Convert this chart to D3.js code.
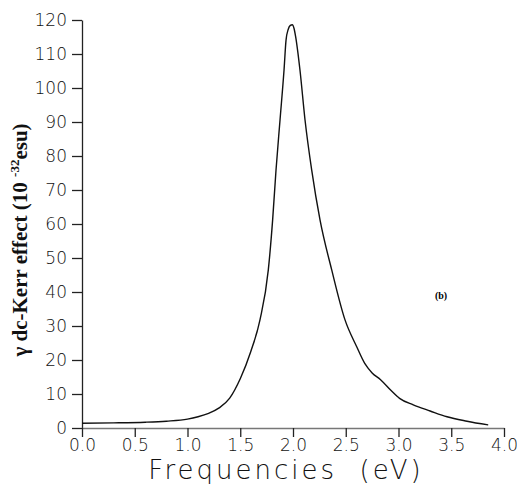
<!DOCTYPE html>
<html>
<head>
<meta charset="utf-8">
<script src="https://cdn.jsdelivr.net/npm/d3@7"></script>
<style>
  body { margin: 0; background: #fff; }
  .tick text { font-family: "DejaVu Sans", sans-serif; font-weight: 200; fill: #111; }
</style>
</head>
<body>
<script>
// dimensions
var width = 517;
var height = 486;

var margin = {
    top: 20,
    bottom: 58,
    left: 82,
    right: 13
}

// data
var freq = [0.0, 0.3, 0.6, 0.8, 1.0, 1.1, 1.2, 1.3, 1.4, 1.5, 1.6, 1.687, 1.766, 1.807, 1.839,
            1.877, 1.915, 1.934, 1.955, 1.975, 1.993, 2.01, 2.025, 2.066, 2.114, 2.177, 2.256,
            2.367, 2.493, 2.604, 2.68, 2.75, 2.83, 2.93, 3.01, 3.14, 3.3, 3.46, 3.65, 3.85];
var gamma = [1.4, 1.5, 1.7, 2.0, 2.6, 3.3, 4.3, 5.9, 8.8, 14.5, 22.5, 31.8, 46.5, 61.2, 75.9,
             90.6, 105.3, 114.1, 117.3, 118.4, 118.6, 117.5, 115.1, 105.3, 90.6, 75.9, 61.2,
             46.5, 31.8, 23.9, 19.0, 16.2, 14.2, 11.0, 8.7, 6.8, 5.0, 3.3, 2.0, 0.9];
var xTicks = [0, 0.5, 1.0, 1.5, 2.0, 2.5, 3.0, 3.5, 4.0];
var yTicks = [0, 10, 20, 30, 40, 50, 60, 70, 80, 90, 100, 110, 120];

var svg = d3.select("body")
    .append("svg")
    .attr("width", width)
    .attr("height", height);

var w = width - margin.left - margin.right;
var h = height - margin.top - margin.bottom;

var g = svg.append("g")
    .attr("transform", "translate(" + margin.left + "," + margin.top + ")");

var x = d3.scaleLinear().domain([0, 4]).range([0, w]);
var y = d3.scaleLinear().domain([0, 120]).range([h, 0]);

// y axis
var yAxis = g.append("g")
    .call(d3.axisLeft(y).tickValues(yTicks).tickSize(10).tickPadding(5).tickSizeOuter(0));
yAxis.selectAll("text").style("font-size", "17px");
yAxis.selectAll("line, path").attr("stroke", "#222").attr("stroke-width", 1.3);

// x axis
var xAxis = g.append("g")
    .attr("transform", "translate(0," + h + ")")
    .call(d3.axisBottom(x).tickValues(xTicks).tickFormat(d3.format(".1f"))
        .tickSize(9).tickPadding(2).tickSizeOuter(0));
xAxis.selectAll("text").style("font-size", "17px");
xAxis.selectAll("line").attr("stroke", "#222").attr("stroke-width", 1.3);
xAxis.select(".domain").attr("stroke", "#777").attr("stroke-width", 1.3);

// the curve
var pts = freq.map(function(f, i) { return [f, gamma[i]]; });
var line = d3.line()
    .x(function(d) { return x(d[0]); })
    .y(function(d) { return y(d[1]); })
    .curve(d3.curveMonotoneX);

g.append("path")
    .datum(pts)
    .attr("fill", "none")
    .attr("stroke", "#111")
    .attr("stroke-width", 1.4)
    .attr("d", line);

// axis titles
svg.append("text")
    .attr("x", 286)
    .attr("y", 479)
    .attr("text-anchor", "middle")
    .attr("xml:space", "preserve")
    .style("font-family", "DejaVu Sans, sans-serif")
    .style("font-weight", 200)
    .style("font-size", "26px")
    .style("letter-spacing", "3px")
    .style("fill", "#111")
    .text("Frequencies  (eV)");

var ylab = svg.append("text")
    .attr("transform", "translate(27,240) rotate(-90)")
    .attr("text-anchor", "middle")
    .style("font-family", "Liberation Serif, serif")
    .style("font-weight", "bold")
    .style("font-size", "21px")
    .style("fill", "#111");
ylab.append("tspan").text("\u03b3 dc-Kerr effect (10 ");
ylab.append("tspan").attr("dy", -8).style("font-size", "13px").text("-32");
ylab.append("tspan").attr("dy", 8).text("esu)");

// panel tag
svg.append("text")
    .attr("x", 441)
    .attr("y", 299)
    .attr("text-anchor", "middle")
    .style("font-family", "Liberation Serif, serif")
    .style("font-weight", "bold")
    .style("font-size", "10px")
    .text("(b)");
</script>
</body>
</html>
